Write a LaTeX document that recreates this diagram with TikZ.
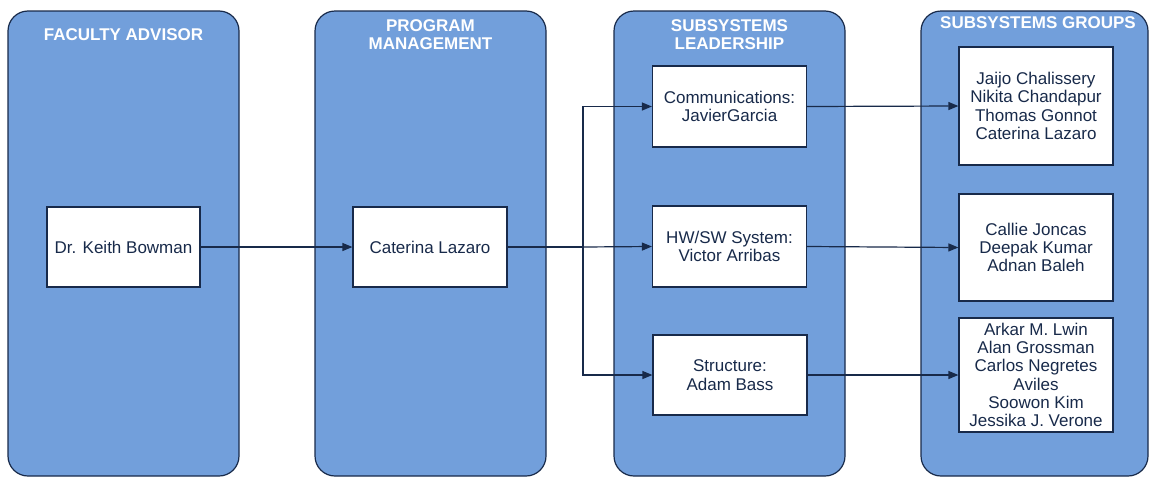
\documentclass[tikz,border=0pt]{standalone}
\usepackage{fontspec}
\setmainfont{Liberation Sans}
\usetikzlibrary{arrows.meta}
\definecolor{lanefill}{RGB}{114,159,219}
\definecolor{navy}{RGB}{24,42,74}
\tikzset{
  lane/.style={draw=navy, fill=lanefill, rounded corners=20pt, line width=1.2pt, minimum height=465pt},
  member/.style={draw=navy, fill=white, line width=1.2pt, align=center, text=navy, inner sep=0pt,
    minimum width=154pt, font=\fontsize{17}{18.3}\selectfont},
  lanetitle/.style={text=white, align=center, inner sep=0pt, font=\bfseries\fontsize{17}{18}\selectfont},
  link/.style={draw=navy, line width=1.2pt, -{Triangle[length=10pt,width=8pt]}}
}
\begin{document}
\begin{tikzpicture}[x=1pt, y=-1pt]
\useasboundingbox (0,0) rectangle (1149,477);
% swim lanes
\node[lane, minimum width=231pt] (fa) at (123.5,243.5){};
\node[lane, minimum width=231pt] (pm) at (430.5,243.5){};
\node[lane, minimum width=231pt] (sl) at (729.5,243.5){};
\node[lane, minimum width=227pt] (sg) at (1034.5,243.5){};
\node[lanetitle] (fa-title) at (123.5,35){FACULTY ADVISOR};
\node[lanetitle] (pm-title) at (430.5,35){PROGRAM\\MANAGEMENT};
\node[lanetitle] (sl-title) at (729.5,35){SUBSYSTEMS\\LEADERSHIP};
\node[lanetitle] (sg-title) at (1038,23){SUBSYSTEMS GROUPS};
% people
\node[member, minimum width=153pt, minimum height=80pt] (bowman) at (123.5,247){Dr. Keith Bowman};
\node[member, minimum height=80pt] (lazaro) at (430,247){Caterina Lazaro};
\node[member, minimum height=81pt] (comm) at (729.5,106.5){Communications:\\JavierGarcia};
\node[member, minimum height=81pt] (hwsw) at (729.5,246.5){HW/SW System:\\Victor Arribas};
\node[member, minimum height=80pt] (struct) at (730,375){Structure:\\Adam Bass};
\node[member, minimum height=118pt] (grp1) at (1036,106){Jaijo Chalissery\\Nikita Chandapur\\Thomas Gonnot\\Caterina Lazaro};
\node[member, minimum height=107pt] (grp2) at (1036,247.5){Callie Joncas\\Deepak Kumar\\Adnan Baleh};
\node[member, minimum height=114pt] (grp3) at (1036,375){Arkar M. Lwin\\Alan Grossman\\Carlos Negretes\\Aviles\\Soowon Kim\\Jessika J. Verone};
% links
\coordinate (split) at (583,247);
\draw[link](bowman.east) -- (lazaro.west);
\draw[draw=navy, line width=1.2pt](lazaro.east) -- (split);
\draw[link](split) |- (comm.west);
\draw[link](split) -- (hwsw.west);
\draw[link](split) |- (struct.west);
\draw[link](comm.east) -- (grp1.west);
\draw[link](hwsw.east) -- (grp2.west);
\draw[link](struct.east) -- (grp3.west);
\end{tikzpicture}
\end{document}
